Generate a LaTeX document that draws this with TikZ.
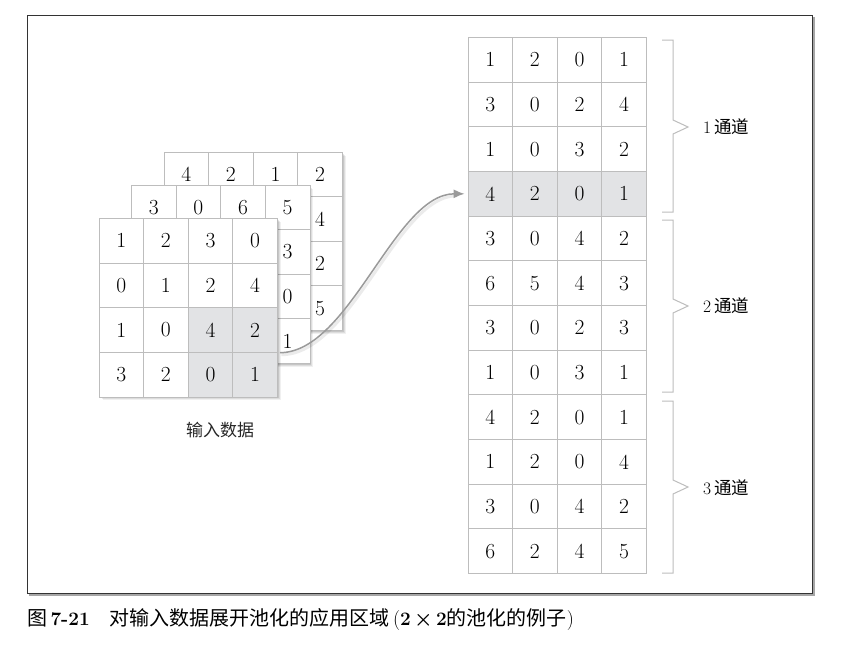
\documentclass[tikz,border=0pt]{standalone}
\usepackage{fontspec}
\newfontfamily\cjk{Noto Sans CJK SC}
\usetikzlibrary{arrows.meta,calc}
\definecolor{cellline}{HTML}{BDBDBD}
\definecolor{shade}{HTML}{E2E3E5}
\definecolor{arrowgray}{HTML}{9A9A9A}
\tikzset{
  cell/.style={draw=cellline, line width=0.8pt, fill=white, minimum width=44.6pt, minimum height=44.6pt, inner sep=0pt, font=\fontsize{21.5}{21.5}\selectfont},
  hcell/.style={cell, fill=shade},
  brace/.style={draw=cellline, line width=1pt},
  blabel/.style={anchor=west, font=\fontsize{17.5}{17.5}\selectfont, inner sep=0pt},
}
\newcommand{\gridshadow}[4]{%
  \foreach \s/\o in {3.5/0.06,2.5/0.08,1.5/0.10}{
    \fill[black, opacity=\o] ($(#1,#2)+(\s,\s)$) rectangle ($(#3,#4)+(\s,\s)$);
  }
  \fill[white] (#1,#2) rectangle (#3,#4);
}
\begin{document}
\begin{tikzpicture}[x=1pt,y=-1pt]
\useasboundingbox (0,0) rectangle (849,648);
% frame
\fill[black!35] (29,17) rectangle (814.5,595.5);
\fill[white] (27,15) rectangle (812.5,593.5);
\draw[black!80, line width=0.8pt] (27,15) rectangle (812.5,593.5);

% back grid
\gridshadow{164}{152}{342.4}{330.4}
\foreach \c/\v in {0/4,1/2,2/1,3/2}
  \node[cell] (b-0-\c) at ({164+22.3+44.6*\c},{152+22.3}) {\v};
\foreach \r/\v in {1/4,2/2,3/5}
  \node[cell] (b-\r-3) at ({164+22.3+44.6*3},{152+22.3+44.6*\r}) {\v};

% middle grid
\gridshadow{131.5}{185}{309.9}{363.4}
\foreach \c/\v in {0/3,1/0,2/6,3/5}
  \node[cell] (m-0-\c) at ({131.5+22.3+44.6*\c},{185+22.3}) {\v};
\foreach \r/\v in {1/3,2/0,3/1}
  \node[cell] (m-\r-3) at ({131.5+22.3+44.6*3},{185+22.3+44.6*\r}) {\v};
\foreach \r in {1,2,3} \foreach \c in {0,1,2}
  \node[cell] (m-\r-\c) at ({131.5+22.3+44.6*\c},{185+22.3+44.6*\r}) {};

% front grid
\gridshadow{99}{218.5}{277.4}{396.9}
\foreach \r/\row in {0/{1,2,3,0},1/{0,1,2,4},2/{1,0,4,2},3/{3,2,0,1}}{
  \foreach \v [count=\ci from 0] in \row {
    \pgfmathsetmacro{\hl}{(\r>1 && \ci>1) ? 1 : 0}
    \ifdim\hl pt>0.5pt
      \node[hcell] (f-\r-\ci) at ({99+22.3+44.6*\ci},{218.5+22.3+44.6*\r}) {\v};
    \else
      \node[cell] (f-\r-\ci) at ({99+22.3+44.6*\ci},{218.5+22.3+44.6*\r}) {\v};
    \fi
  }
}
\node[font=\cjk\fontsize{17}{17}\selectfont, text=black!85] (lbl) at (220,430) {输入数据};

% right table
\foreach \r/\row in {0/{1,2,0,1},1/{3,0,2,4},2/{1,0,3,2},3/{4,2,0,1},4/{3,0,4,2},5/{6,5,4,3},6/{3,0,2,3},7/{1,0,3,1},8/{4,2,0,1},9/{1,2,0,4},10/{3,0,4,2},11/{6,2,4,5}}{
  \foreach \v [count=\ci from 0] in \row {
    \ifnum\r=3
      \node[hcell] (t-\r-\ci) at ({468+22.3+44.6*\ci},{37.5+22.3+44.67*\r}) {\v};
    \else
      \node[cell] (t-\r-\ci) at ({468+22.3+44.6*\ci},{37.5+22.3+44.67*\r}) {\v};
    \fi
  }
}

% braces
\draw[brace] (662,40) -- (673,40) -- (673,120) -- (688,127) -- (673,134) -- (673,212) -- (662,212);
\draw[brace] (662,220) -- (673,220) -- (673,299) -- (688,306) -- (673,313) -- (673,392) -- (662,392);
\draw[brace] (662,401) -- (673,401) -- (673,480) -- (688,487) -- (673,494) -- (673,573) -- (662,573);
\node[blabel] (c1) at (703,127) {1\,{\cjk 通道}};
\node[blabel] (c2) at (703,306) {2\,{\cjk 通道}};
\node[blabel] (c3) at (703,488) {3\,{\cjk 通道}};

% arrow
\coordinate (as) at ($(f-2-3.south east)+(2,0)$);
\coordinate (ae) at ($(t-3-0.west)+(-3,0)$);
\draw[black, opacity=0.08, line width=3pt] ($(as)+(1.5,2)$) .. controls ($(as)+(72,2)$) and ($(ae)+(-68,2)$) .. ($(ae)+(-8,2)$);
\draw[arrowgray, line width=1.5pt, -{Latex[length=11pt,width=9pt]}] (as) .. controls ($(as)+(70,0)$) and ($(ae)+(-70,0)$) .. (ae);

% caption
\node[anchor=west, inner sep=0pt, font=\fontsize{20}{20}\selectfont, text=black] (cap) at (27,620)
  {{\cjk 图}\,\textbf{\fontsize{19}{19}\selectfont 7-21}\hspace{20pt}{\cjk 对输入数据展开池化的应用区域}\,(\textbf{\fontsize{19}{19}\selectfont 2}\,{\boldmath$\times$}\,\textbf{\fontsize{19}{19}\selectfont 2}{\cjk 的池化的例子})};
\end{tikzpicture}
\end{document}
